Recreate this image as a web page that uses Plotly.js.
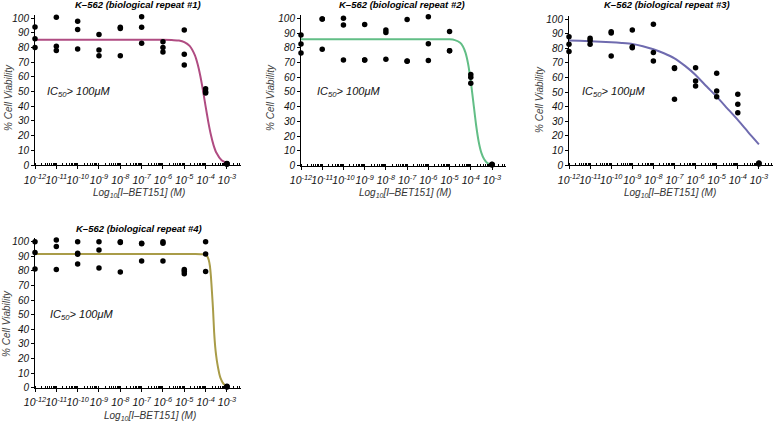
<!DOCTYPE html>
<html><head><meta charset="utf-8">
<script src="https://cdn.plot.ly/plotly-3.0.1.min.js"></script>
<style>html,body{margin:0;padding:0;background:#fff}#chart{width:774px;height:422px}</style>
</head><body><div id="chart"></div>
<script>
// ---- data (log10 of molar concentration, % viability) ----
const panelTitles = ['K–562 (biological repeat #1)','K–562 (biological repeat #2)','K–562 (biological repeat #3)','K–562 (biological repeat #4)'];
const icText = 'IC<sub>50</sub>> 100μM';
const xTitle = 'Log<sub>10</sub>[I–BET151] (M)';
const yTitle = '% Cell Viability';

const r1Exp  = [-12,-12,-12,-11,-11,-11,-10,-10,-10,-9,-9,-9,-8,-8,-8,-7,-7,-7,-6,-6,-6,-5,-5,-5,-4,-4,-4,-3,-3,-3];
const r1Viab = [94,86,80, 100.7,81,78, 98,92.3,79, 89,78.4,74.5, 93.9,93,74.5, 101,93.9,83, 84,80,77, 92,75.5,68.2, 52,50,49, 1,0.5,0.8];
const r2Exp  = r1Exp;
const r2Viab = [88.7,82.6,76.5, 99.5,99.5,79, 100,95.5,71.7, 95.7,71.7,71.7, 92,90.3,72.2, 99.1,70.8,71, 101.1,82.8,71.3, 91,78,78, 61.8,60,56, 0.5,0.8,1];
const r3Exp  = r1Exp;
const r3Viab = [88,82.8,77.8, 87,85.5,82.8, 91.5,90.5,74.8, 92.7,81.2,80.5, 96.6,77.1,71.4, 66.8,66.2,45.1, 66.8,57.7,54.2, 62.9,50.8,46.9, 48.5,41.6,35.9, 0.7,1,1.3];
const r4Exp  = [-12,-12,-12,-11,-11,-11,-10,-10,-10,-10,-9,-9,-9,-8,-8,-8,-7,-7,-7,-6,-6,-6,-5,-5,-5,-4,-4,-4,-3,-3,-3];
const r4Viab = [100,92.5,81.3, 101.1,96.6,81, 100,92,91.3,84.7, 100,94.3,82, 100,99.5,79.2, 98.9,98.5,86.8, 100,98.9,86.8, 81,79.7,78.1, 100,91.6,79.5, 0.7,0.5,1];

// fitted curves
const c1Exp  = [-12,-8,-6,-5.5,-5.25,-5,-4.75,-4.5,-4.375,-4.25,-4.125,-4,-3.875,-3.75,-3.625,-3.5,-3.25,-3];
const c1Viab = [85.3,85.3,85.3,85.1,84.8,83.8,81.2,74.7,68.8,60.8,50.9,40.0,29.4,20.4,13.4,8.5,3.2,1.2];
const c2Exp  = [-12,-8,-5.5,-5,-4.75,-4.5,-4.375,-4.25,-4.125,-4,-3.875,-3.75,-3.625,-3.5,-3.375,-3.25,-3.125,-3];
const c2Viab = [85.8,85.8,85.8,85.7,85.2,83.4,81.1,76.7,69.0,57.2,42.5,27.6,16.1,8.7,4.5,2.2,1.1,0.5];
const c3Exp  = [-12,-11.5,-11,-10.5,-10,-9.5,-9,-8.5,-8,-7.5,-7,-6.5,-6,-5.5,-5,-4.5,-4,-3.5,-3];
const c3Viab = [85.4,85.2,84.9,84.6,84.2,83.7,83.0,81.5,79.4,76.7,73.2,68.0,61.8,54.2,46.9,38.9,30.9,22.4,14.2];
const c4Exp  = [-12,-6,-4.5,-4.1,-4.0,-3.95,-3.9,-3.85,-3.8,-3.75,-3.7,-3.65,-3.6,-3.55,-3.5,-3.45,-3.4,-3.35,-3.3,-3.2,-3.1,-3.0];
const c4Viab = [91.6,91.6,91.6,91.4,91.0,90.4,89.3,87.3,83.5,76,65,53,38,28,21.5,16.5,12.5,9,6.5,3.5,1.8,0.8];

const xTickVals = [1e-12,1e-11,1e-10,1e-9,1e-8,1e-7,1e-6,1e-5,1e-4,1e-3];
const xTickText = ['10<sup>-12</sup>','10<sup>-11</sup>','10<sup>-10</sup>','10<sup>-9</sup>','10<sup>-8</sup>',
                   '10<sup>-7</sup>','10<sup>-6</sup>','10<sup>-5</sup>','10<sup>-4</sup>','10<sup>-3</sup>'];
const yTicks = [0,10,20,30,40,50,60,70,80,90,100];

// ---- styling / layout ----
const colors = ['#B04C82','#62BE86','#6F6BAF','#A99C48'];
const FONT = 'Liberation Sans, Arial, Helvetica, sans-serif';
const W = 774, H = 422;
// pixel boxes [left, right, bottom(y=0), top]
const boxes = [
  [35, 240.8, 165, 14.6],
  [301, 505.8, 165.7, 14.6],
  [569, 772.6, 165, 15.6],
  [35, 240.8, 387.7, 238]
];
const toPow = e => Math.pow(10, e);
const pts = [[r1Exp,r1Viab],[r2Exp,r2Viab],[r3Exp,r3Viab],[r4Exp,r4Viab]];
const crv = [[c1Exp,c1Viab],[c2Exp,c2Viab],[c3Exp,c3Viab],[c4Exp,c4Viab]];

const data = [];
const layout = {
  width: W, height: H, margin: {l:0,r:0,t:0,b:0},
  paper_bgcolor:'#fff', plot_bgcolor:'#fff', showlegend:false,
  font:{family:FONT, color:'#111'}, annotations: []
};

for (let i = 0; i < 4; i++) {
  const n = i + 1, xa = 'x' + (n===1?'':n), ya = 'y' + (n===1?'':n);
  data.push({type:'scatter', mode:'lines', x: crv[i][0].map(toPow), y: crv[i][1],
    xaxis: xa, yaxis: ya, line:{color:colors[i], width:2, shape:'spline', smoothing:0.6},
    cliponaxis:false, hoverinfo:'skip'});
  data.push({type:'scatter', mode:'markers', x: pts[i][0].map(toPow), y: pts[i][1],
    xaxis: xa, yaxis: ya, marker:{color:'#000', size:5.5}, cliponaxis:false});
  const b = boxes[i];
  layout['xaxis' + (n===1?'':n)] = {
    type:'log', range:[-12,-2.35], domain:[b[0]/W, b[1]/W], anchor: ya,
    tickmode:'array', tickvals: xTickVals, ticktext: xTickText, tickangle:0,
    showline:true, linecolor:'#000', linewidth:1, showgrid:false, zeroline:false,
    ticks:'outside', ticklen:3, tickcolor:'#000', tickwidth:1, ticklabelstandoff:2,
    minor:{ticks:'inside', ticklen:2, dtick:'D1', tickcolor:'#000', showgrid:false},
    tickfont:{family:FONT, size:10.5, style:'italic', color:'#111'}, fixedrange:true
  };
  layout['yaxis' + (n===1?'':n)] = {
    range:[0,102.5], domain:[1-b[2]/H, 1-b[3]/H], anchor: xa,
    tickvals: yTicks, showline:true, linecolor:'#000', linewidth:1, showgrid:false, zeroline:false,
    ticks:'outside', ticklen:3, tickcolor:'#000',
    tickfont:{family:FONT, size:10, style:'italic', color:'#111'}, fixedrange:true
  };
  layout.annotations.push({xref:xa, yref:ya, x:[-11.53,-11.34,-11.48,-11.38][i], y:50,
    xanchor:'left', yanchor:'middle', text: icText, showarrow:false,
    font:{family:FONT, size:11, style:'italic', color:'#111'}});
}

const tpos = [[137.5,5],[402,5],[667,5],[139,228]];
const xtpos = [[139,193],[405,193],[670,193],[150,416]];
const ytpos = [[8,98],[270,98],[539,100],[6,324]];
for (let i = 0; i < 4; i++) {
  layout.annotations.push({xref:'paper', yref:'paper', x:tpos[i][0]/W, y:1-tpos[i][1]/H,
    xanchor:'center', yanchor:'middle', text: panelTitles[i], showarrow:false,
    font:{family:FONT, size:9.5, style:'italic', weight:'bold', color:'#000'}});
  layout.annotations.push({xref:'paper', yref:'paper', x:xtpos[i][0]/W, y:1-xtpos[i][1]/H,
    xanchor:'center', yanchor:'middle', text: xTitle, showarrow:false,
    font:{family:FONT, size:10, style:'italic', color:'#333'}});
  layout.annotations.push({xref:'paper', yref:'paper', x:ytpos[i][0]/W, y:1-ytpos[i][1]/H,
    xanchor:'center', yanchor:'middle', text: yTitle, showarrow:false, textangle:-90,
    font:{family:FONT, size:10, style:'italic', color:'#444'}});
}

Plotly.newPlot('chart', data, layout, {staticPlot:true, displayModeBar:false});
</script>
</body></html>
